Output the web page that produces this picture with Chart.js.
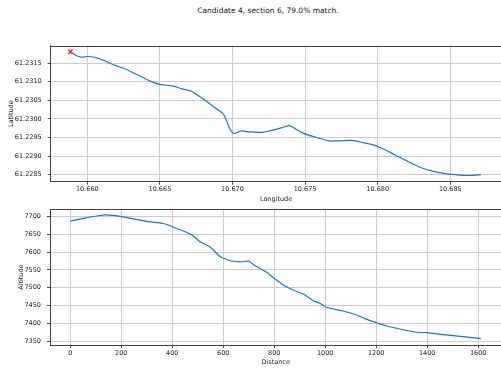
<!DOCTYPE html>
<html>
<head>
<meta charset="utf-8">
<script src="https://cdn.jsdelivr.net/npm/chart.js@4"></script>
<style>
  body { margin: 0; background: #fff; overflow: hidden; }
  #wrap { position: relative; width: 501px; height: 370px; overflow: hidden; }
  #title {
    position: absolute; top: 5.5px; left: 168px; width: 200px;
    text-align: center; font: 7.5px "DejaVu Sans"; line-height: 9px; color: #111;
  }
  canvas { position: absolute; left: 0; }
</style>
</head>
<body>
<div id="wrap">
  <div id="title">Candidate 4, section 6, 79.0% match.</div>
  <canvas id="trackChart" width="530" height="205" style="top:0"></canvas>
  <canvas id="profileChart" width="530" height="165" style="top:205px"></canvas>
</div>
<script>
// Track position (top panel)
const longitude = [
  10.65884, 10.65927, 10.65961, 10.65998, 10.66053, 10.66122, 10.66191, 10.66260,
  10.66322, 10.66390, 10.66452, 10.66501, 10.66592, 10.66652, 10.66714, 10.66755,
  10.66804, 10.66879, 10.66938, 10.66962, 10.66983, 10.67003, 10.67024, 10.67059,
  10.67093, 10.67134, 10.67203, 10.67258, 10.67327, 10.67391, 10.67419, 10.67488,
  10.67580, 10.67660, 10.67740, 10.67821, 10.67901, 10.67970, 10.68028, 10.68085,
  10.68200, 10.68291, 10.68383, 10.68475, 10.68532, 10.68590, 10.68658, 10.68711
];
const latitude = [
  61.23181, 61.23170, 61.23166, 61.23168, 61.23166, 61.23156, 61.23144, 61.23135,
  61.23123, 61.23110, 61.23099, 61.23093, 61.23088, 61.23081, 61.23075, 61.23065,
  61.23052, 61.23030, 61.23012, 61.22992, 61.22972, 61.22962, 61.22962, 61.22968,
  61.22966, 61.22965, 61.22964, 61.22968, 61.22975, 61.22982, 61.22977, 61.22961,
  61.22950, 61.22941, 61.22941, 61.22942, 61.22936, 61.22930, 61.22921, 61.22910,
  61.22887, 61.22870, 61.22859, 61.22852, 61.22850, 61.22848, 61.22848, 61.22850
];

// Altitude profile (bottom panel)
const distance = [
  0, 51, 103.5, 142.7, 194.9, 247.1, 299.6, 364.7, 391, 423.5, 453.7, 476,
  508.6, 547.8, 587, 606.7, 633, 665.5, 700.8, 717.6, 744, 770, 800, 835.3,
  874.5, 920.4, 953, 979.2, 1000, 1031.4, 1070.6, 1123.1, 1155.7, 1200, 1240.8,
  1293, 1358.4, 1400, 1462.7, 1541.2, 1610.6
];
const altitude = [
  7686.8, 7694.4, 7700.8, 7703.9, 7699.7, 7692.7, 7686.0, 7679.8, 7673.7, 7664.4,
  7656.0, 7648.2, 7628.9, 7614.6, 7587.5, 7581.0, 7574.9, 7572.6, 7574.3, 7565.0,
  7553.9, 7543.2, 7526.4, 7507.7, 7493.7, 7479.7, 7463.7, 7456.4, 7446.9, 7440.5,
  7434.9, 7423.7, 7413.3, 7402.1, 7392.9, 7384.5, 7375.3, 7374.1, 7368.5, 7362.9,
  7357.3
];

// Tick labels
const lonTicks = [10.660, 10.665, 10.670, 10.675, 10.680, 10.685];
const latTicks = [61.2285, 61.2290, 61.2295, 61.2300, 61.2305, 61.2310, 61.2315];
const distTicks = [0, 200, 400, 600, 800, 1000, 1200, 1400, 1600];
const altTicks = [7350, 7400, 7450, 7500, 7550, 7600, 7650, 7700];

const FONT = { family: 'DejaVu Sans', size: 6.5 };
const BLUE = '#1f77b4';
const SPINE = '#444';
const GRID = '#cccccc';
// canvases run past the page edge; the plot box ends at x = 501.4
const RIGHT_PAD = 530 - 501.4;

// draws the upper frame line of the plot box
const topSpine = {
  id: 'topSpine',
  afterDraw(chart) {
    const { ctx, chartArea: a } = chart;
    ctx.save();
    ctx.strokeStyle = SPINE;
    ctx.lineWidth = 1;
    ctx.beginPath();
    ctx.moveTo(a.left, Math.round(a.top) + 0.5);
    ctx.lineTo(a.right, Math.round(a.top) + 0.5);
    ctx.stroke();
    ctx.restore();
  }
};

function axis(opts) {
  return {
    type: 'linear',
    position: opts.position,
    min: opts.min,
    max: opts.max,
    afterBuildTicks: s => { s.ticks = opts.ticks.map(v => ({ value: v })); },
    afterFit: s => {
      if (opts.position === 'left') s.width = opts.size;
      else s.height = opts.size;
      s.paddingLeft = 0;
      s.paddingRight = 0;
      s.paddingTop = 0;
      s.paddingBottom = 0;
    },
    grid: { color: GRID, lineWidth: 1, tickColor: SPINE, tickLength: 3 },
    border: { color: SPINE, width: 1 },
    ticks: {
      font: FONT, color: '#222', padding: opts.pad,
      maxRotation: 0, autoSkip: false,
      callback: v => opts.fmt(v)
    },
    title: {
      display: true, text: opts.title, font: FONT, color: '#222',
      padding: { top: opts.titlePad, bottom: opts.titlePad }
    }
  };
}

function pairs(xs, ys) {
  return xs.map((x, i) => ({ x: x, y: ys[i] }));
}

const common = {
  responsive: false,
  animation: false,
  plugins: { legend: { display: false }, tooltip: { enabled: false } },
  elements: { point: { radius: 0 } }
};

new Chart(document.getElementById('trackChart'), {
  type: 'scatter',
  data: {
    datasets: [
      {
        data: [{ x: longitude[0], y: latitude[0] }],
        pointStyle: 'crossRot', pointRadius: 3, borderColor: '#ff1a1a',
        borderWidth: 1.3, showLine: false
      },
      {
        data: pairs(longitude, latitude),
        showLine: true, borderColor: BLUE, borderWidth: 1.2,
        tension: 0.3, pointRadius: 0
      }
    ]
  },
  options: Object.assign({}, common, {
    layout: { padding: { top: 45.7, left: 0, right: RIGHT_PAD, bottom: 0 } },
    scales: {
      x: axis({ position: 'bottom', min: 10.65748, max: 10.68852, ticks: lonTicks,
                size: 23.3, pad: 1, title: 'Longitude', titlePad: 2,
                fmt: v => v.toFixed(3) }),
      y: axis({ position: 'left', min: 61.22831, max: 61.23197, ticks: latTicks,
                size: 50.7, pad: 6, title: 'Latitude', titlePad: 7,
                fmt: v => v.toFixed(4) })
    }
  }),
  plugins: [topSpine]
});

new Chart(document.getElementById('profileChart'), {
  type: 'scatter',
  data: {
    datasets: [{
      data: pairs(distance, altitude),
      showLine: true, borderColor: BLUE, borderWidth: 1.2,
      tension: 0.2, pointRadius: 0
    }]
  },
  options: Object.assign({}, common, {
    layout: { padding: { top: 4.3, left: 0, right: RIGHT_PAD, bottom: 0 } },
    scales: {
      x: axis({ position: 'bottom', min: -79.6, max: 1691, ticks: distTicks,
                size: 25, pad: 1, title: 'Distance', titlePad: 4,
                fmt: v => String(v) }),
      y: axis({ position: 'left', min: 7339.6, max: 7719.6, ticks: altTicks,
                size: 50, pad: 6, title: 'Altitude', titlePad: 17.8,
                fmt: v => String(v) })
    }
  }),
  plugins: [topSpine]
});
</script>
</body>
</html>
